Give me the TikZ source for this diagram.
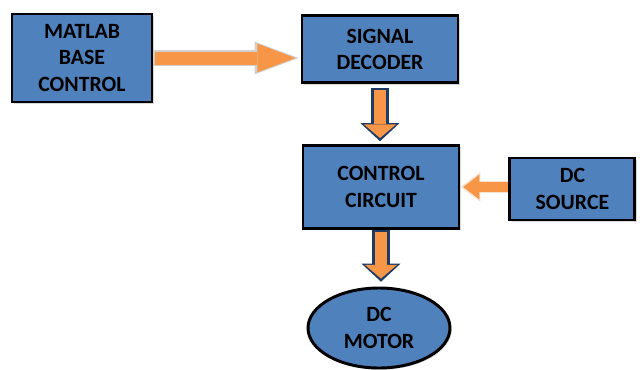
\documentclass[tikz,border=0pt]{standalone}
\usepackage{fontspec}
\setmainfont{Carlito}
\usetikzlibrary{arrows.meta,shapes.geometric,shadows}
\definecolor{boxblue}{HTML}{4F81BD}
\definecolor{arrorange}{HTML}{F79646}
\definecolor{arrnavy}{HTML}{1F3B63}
\definecolor{arrgray}{HTML}{D0D0D0}
\definecolor{arrbeige}{HTML}{F6E3CF}
\tikzset{
  blk/.style={draw=black,line width=2.1pt,fill=boxblue,align=center,
    drop shadow={shadow xshift=1.2pt,shadow yshift=-1.2pt,opacity=0.3},
    font=\fontsize{15.5}{18.8}\selectfont\bfseries}
}

\begin{document}
\begin{tikzpicture}
  \useasboundingbox (0,0) rectangle (16,9.225);
  % blocks
  \node[blk,minimum width=3.5cm,minimum height=2.2cm] (mat) at (2.05,7.775) {MATLAB\\BASE\\CONTROL};
  \node[blk,minimum width=3.9cm,minimum height=1.675cm] (sig) at (9.5,7.99) {SIGNAL\\DECODER};
  \node[blk,minimum width=3.9cm,minimum height=2.075cm] (ctl) at (9.525,4.55) {CONTROL\\CIRCUIT};
  \node[blk,minimum width=3.125cm,minimum height=1.55cm] (src) at (14.31,4.5) {DC\\SOURCE};
  \node[blk,ellipse,minimum width=3.55cm,minimum height=2.0cm] (mot) at (9.475,1.025) {DC\\MOTOR};
  % matlab -> decoder (light edged arrow)
  \draw[arrgray,line width=0.42cm,shorten >=0.05cm,
    -{Triangle[length=1.1cm,width=0.82cm,line width=0pt]}]
    (mat.east) -- (mat.east -| sig.west);
  \draw[arrorange,line width=0.325cm,shorten >=0.13cm,shorten <=0.05cm,
    -{Triangle[length=0.95cm,width=0.72cm,line width=0pt]}]
    (mat.east) -- (mat.east -| sig.west);
  % decoder -> control (navy edged)
  \draw[arrnavy,line width=0.43cm,shorten <=0.1cm,shorten >=0.07cm,
    -{Triangle[length=0.45cm,width=0.97cm,line width=0pt]}]
    (sig.south) -- (sig.south |- ctl.north);
  \draw[arrorange,line width=0.3cm,shorten <=0.15cm,shorten >=0.15cm,
    -{Triangle[length=0.34cm,width=0.8cm,line width=0pt]}]
    (sig.south) -- (sig.south |- ctl.north);
  % control -> motor
  \draw[arrnavy,line width=0.45cm,shorten >=0.12cm,
    -{Triangle[length=0.45cm,width=0.97cm,line width=0pt]}]
    (ctl.south) -- (ctl.south |- mot.north);
  \draw[arrorange,line width=0.32cm,shorten <=0.05cm,shorten >=0.2cm,
    -{Triangle[length=0.34cm,width=0.8cm,line width=0pt]}]
    (ctl.south) -- (ctl.south |- mot.north);
  % source -> control (pale edged)
  \draw[arrbeige,line width=0.3cm,
    -{Triangle[length=0.5cm,width=0.75cm,line width=0pt]}]
    ([yshift=0.05cm]src.west) -- ([yshift=0.05cm]src.west -| ctl.east);
  \draw[arrorange,line width=0.24cm,shorten >=0.07cm,
    -{Triangle[length=0.4cm,width=0.62cm,line width=0pt]}]
    ([yshift=0.05cm]src.west) -- ([yshift=0.05cm]src.west -| ctl.east);
\end{tikzpicture}
\end{document}
